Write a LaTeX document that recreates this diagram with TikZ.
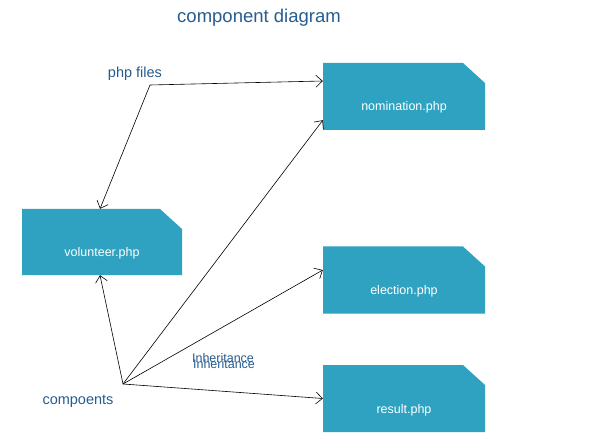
\documentclass[tikz,border=0pt]{standalone}
\usepackage{fontspec}
\setmainfont{Liberation Sans}
\usetikzlibrary{arrows.meta, positioning}
\definecolor{filecolor}{RGB}{46,162,192}
\definecolor{labelcolor}{RGB}{38,92,142}
\tikzset{
  phpfile/.style = {rectangle, inner sep=0pt, minimum width=162pt, minimum height=67pt,
                    text=white, font=\fontsize{12.5}{14}\selectfont,
                    text height=29pt, text depth=0pt,
                    path picture={\fill[filecolor] (path picture bounding box.south west)
                      -- (path picture bounding box.north west)
                      -- ([xshift=-22pt]path picture bounding box.north east)
                      -- ([yshift=-20pt]path picture bounding box.north east)
                      -- (path picture bounding box.south east) -- cycle;}},
  lbl/.style     = {text=labelcolor, inner sep=0pt, font=\fontsize{14.5}{16}\selectfont},
  link/.style    = {-{Straight Barb[length=6.5pt,width=12pt]}, black, line width=0.6pt},
}
\begin{document}
\begin{tikzpicture}[x=1pt, y=-1pt]
  \useasboundingbox (0,0) rectangle (610,446);

  % title
  \node[lbl, font=\fontsize{18.5}{20}\selectfont] (title) at (259,18) {component diagram};

  % php files
  \node[phpfile] (nom) at (404,96.5) {nomination.php};
  \node[phpfile, minimum width=160pt, minimum height=66pt] (vol) at (102,242) {volunteer.php};
  \node[phpfile] (ele) at (404,280) {election.php};
  \node[phpfile] (res) at (404,398.5) {result.php};

  % labels
  \node[lbl] (files) at (135,74) {php files};
  \node[lbl] (comps) at (78,401) {compoents};
  \node[lbl, font=\fontsize{12.5}{14}\selectfont] (inh1) at (223,358) {Inheritance};
  \node[lbl, font=\fontsize{12.5}{14}\selectfont] (inh2) at (224,364) {Inheritance};

  % hubs
  \coordinate (fhub) at (150,85);
  \coordinate (chub) at (123,384);

  % edges
  \draw[link] (fhub) -- ([yshift=15.5pt]nom.west);
  \draw[link] (fhub) -- ([xshift=-2pt]vol.north);
  \draw[link] (chub) -- ([xshift=-2pt]vol.south);
  \draw[link] (chub) -- ([yshift=10pt]nom.south west);
  \draw[link] (chub) -- ([yshift=10pt]ele.west);
  \draw[link] (chub) -- (res.west);
\end{tikzpicture}
\end{document}
